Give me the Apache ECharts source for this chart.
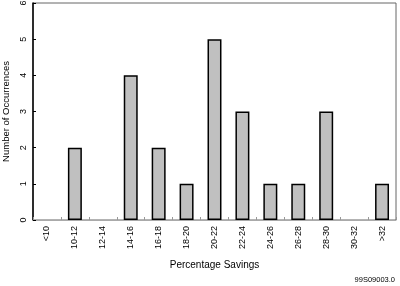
<!DOCTYPE html>
<html><head><meta charset="utf-8">
<script src="https://cdn.jsdelivr.net/npm/echarts@6/dist/echarts.min.js"></script>
<style>html,body{margin:0;padding:0;background:#fff}#c{width:400px;height:286px}</style>
</head><body><div id="c"></div>
<script>
var categories = ['<10','10-12','12-14','14-16','16-18','18-20','20-22','22-24','24-26','26-28','28-30','30-32','>32'];
var occurrences = [0,2,0,4,2,1,5,3,1,1,3,0,1];
var yTicks = [0,1,2,3,4,5,6];

var chart = echarts.init(document.getElementById('c'), null, {renderer:'canvas'});
var F = 'Liberation Sans, Arial, sans-serif';
var barData = occurrences.map(function(v){
  return v === 0 ? {value:v, itemStyle:{borderWidth:0}} : v;
});
chart.setOption({
  animation:false,
  backgroundColor:'#fff',
  grid:{left:33,right:4,top:3,bottom:66,show:true,borderColor:'#666',borderWidth:1,outerBoundsMode:'none',containLabel:false},
  xAxis:{
    type:'category', data:categories,
    name:'Percentage Savings', nameLocation:'middle', nameGap:40,
    nameTextStyle:{fontFamily:F,fontSize:10,color:'#000'},
    axisLine:{lineStyle:{color:'#aaa',width:1}},
    axisTick:{show:true,inside:true,length:3,lineStyle:{color:'#999'}},
    axisLabel:{rotate:90,fontFamily:F,fontSize:9,color:'#000',margin:6,interval:0}
  },
  yAxis:{
    type:'value', min:0, max:6, interval:1,
    name:'Number of Occurrences', nameLocation:'middle', nameGap:19,
    nameTextStyle:{fontFamily:F,fontSize:9.5,color:'#000'},
    axisLine:{show:true,lineStyle:{color:'#000',width:1.5}},
    axisTick:{show:true,inside:true,length:3,lineStyle:{color:'#000'}},
    splitLine:{show:false},
    axisLabel:{rotate:90,fontFamily:F,fontSize:9,color:'#000',margin:5,
      formatter:function(v){return yTicks.indexOf(v)>=0?String(v):'';}}
  },
  series:[{
    type:'bar', data:barData, barWidth:'50%',
    itemStyle:{color:'#c0c0c0',borderColor:'#000',borderWidth:1.5}
  }],
  graphic:[{
    type:'text', right:5, top:276,
    style:{text:'99S09003.0',font:'7.5px '+F,fill:'#000'}
  }]
});
</script></body></html>
